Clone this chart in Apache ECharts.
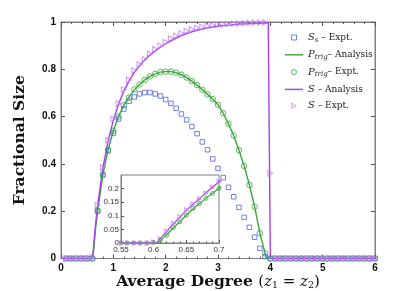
<!DOCTYPE html>
<html><head><meta charset="utf-8">
<script src="https://cdn.jsdelivr.net/npm/echarts@6/dist/echarts.min.js"></script>
<style>html,body{margin:0;padding:0;background:#fff}#c{width:415px;height:291px}</style>
</head><body><div id="c"></div>
<script>
// ---- data ----
const exptX = [0.1,0.2,0.3,0.4,0.5,0.6,0.7,0.8,0.9,1.0,1.1,1.2,1.3,1.4,1.5,1.6,1.7,1.8,1.9,2.0,
  2.1,2.2,2.3,2.4,2.5,2.6,2.7,2.8,2.9,3.0,3.1,3.2,3.3,3.4,3.5,3.6,3.7,3.8,3.9,4.0,
  4.1,4.2,4.3,4.4,4.5,4.6,4.7,4.8,4.9,5.0,5.1,5.2,5.3,5.4,5.5,5.6,5.7,5.8,5.9,6.0];
const exptSs = [0,0,0,0,0,0,
  0.2,0.353,0.455,0.53,0.59,0.632,0.665,0.683,0.696,0.702,0.702,0.696,0.687,0.672,0.656,0.635,0.611,0.586,0.558,0.528,0.493,0.46,0.421,0.381,0.342,0.301,0.261,0.216,0.174,0.132,0.09,0.043,0.008,
  0,0,0,0,0,0,0,0,0,0,0,0,0,0,0,0,0,0,0,0,0];
const exptP = [0,0,0,0,0,0,
  0.203,0.353,0.46,0.54,0.60,0.648,0.68,0.715,0.736,0.755,0.77,0.781,0.788,0.79,0.79,0.786,0.777,0.765,0.75,0.733,0.714,0.694,0.674,0.65,0.614,0.569,0.52,0.458,0.391,0.311,0.219,0.107,0.022,
  0,0,0,0,0,0,0,0,0,0,0,0,0,0,0,0,0,0,0,0,0];
const exptS = [0,0,0,0,0,0.005,
  0.225,0.385,0.5,0.59,0.655,0.715,0.755,0.795,0.82,0.843,0.866,0.885,0.9,0.915,0.93,0.942,0.952,0.962,0.968,0.975,0.979,0.983,0.986,0.988,0.99,0.991,0.993,0.994,0.995,0.996,0.997,0.997,0.998,
  0.36,
  0,0,0,0,0,0,0,0,0,0,0,0,0,0,0,0,0,0,0,0];

const anaX = [0,0.6,0.605,0.61,0.62,0.63,0.64,0.65,0.66,0.67,0.68,0.69,
  0.7,0.8,0.9,1.0,1.1,1.2,1.3,1.4,1.5,1.6,1.7,1.8,1.9,2.0,2.1,2.2,2.3,2.4,2.5,2.6,2.7,2.8,2.9,3.0,3.1,3.2,3.3,3.4,3.5,3.6,3.7,3.8,3.9,
  3.93,3.96,4.0,6.0];
const anaS = [0,0,0,0.016,0.043,0.07,0.095,0.12,0.143,0.163,0.185,0.205,
  0.225,0.383,0.497,0.585,0.652,0.708,0.75,0.787,0.815,0.84,0.86,0.878,0.894,0.908,0.92,0.932,0.942,0.951,0.958,0.965,0.97,0.975,0.979,0.982,0.985,0.987,0.989,0.991,0.992,0.993,0.994,0.995,0.996,
  0.996,0.997,0,0];
const anaP = [0,0,0,0.008,0.03,0.055,0.078,0.102,0.125,0.145,0.164,0.183,
  0.201,0.353,0.46,0.54,0.60,0.648,0.682,0.713,0.736,0.755,0.77,0.781,0.788,0.79,0.79,0.786,0.777,0.765,0.75,0.733,0.714,0.694,0.673,0.65,0.614,0.569,0.52,0.458,0.391,0.311,0.219,0.107,0.022,
  0,0,0,0];

const insetX = [0.55,0.56,0.57,0.58,0.59,0.60,0.61,0.62,0.63,0.64,0.65,0.66,0.67,0.68,0.69,0.70];
const insetS = [0,0,0,0,0,0.003,0.016,0.044,0.072,0.096,0.121,0.142,0.162,0.183,0.205,0.225];
const insetP = [0,0,0,0,0,0.002,0.01,0.028,0.057,0.078,0.102,0.127,0.145,0.164,0.182,0.201];

const xTicks = [0,1,2,3,4,5,6];
const yTickLabels = ['0','0.2','0.4','0.6','0.8','1'];

// ---- style ----
const serif = 'DejaVu Serif';
const sans = 'Liberation Sans';
const C_BLUE = '#4c63ea', C_GREEN = '#3aa63a', C_PURPLE = '#a640f2', C_TRI = '#c27af5';
const triPath = 'path://M0,0L8.66,5L0,10Z';
const sqPath = 'path://M0,0H10V10H0Z';
const linePath = 'path://M0,0H20V1.6H0Z';
const zip = (xs, ys) => xs.map((x, i) => [x, ys[i]]);

const legendText = {
  Ss_expt: '{i|S}{sub|s}{t| – Expt.}',
  P_ana: '{i|P}{sub|trig}{t|– Analysis}',
  P_expt: '{i|P}{sub|trig}{t|– Expt.}',
  S_ana: '{i|S}{t| – Analysis}',
  S_expt: '{i|S}{t| – Expt.}'
};

const axisLineStyle = {color: '#808080', width: 1};
const tickStyle = {color: '#555', width: 1};

function mainX(pos, showLabel) {
  return {
    gridIndex: 0, type: 'value', min: 0, max: 6, interval: 1, position: pos,
    axisLine: {show: true, onZero: false, lineStyle: axisLineStyle},
    axisTick: {show: true, inside: true, length: 4, lineStyle: tickStyle},
    minorTick: {show: true, splitNumber: 5, length: 2, lineStyle: tickStyle},
    splitLine: {show: false}, minorSplitLine: {show: false},
    axisLabel: {show: showLabel, fontFamily: sans, fontWeight: 'bold', fontSize: 10, color: '#111', margin: 5,
      formatter: v => String(xTicks[Math.round(v)])}
  };
}
function mainY(pos, showLabel) {
  return {
    gridIndex: 0, type: 'value', min: 0, max: 1, interval: 0.2, position: pos,
    axisLine: {show: true, onZero: false, lineStyle: axisLineStyle},
    axisTick: {show: true, inside: true, length: 4, lineStyle: tickStyle},
    splitLine: {show: false},
    axisLabel: {show: showLabel, fontFamily: sans, fontWeight: 'bold', fontSize: 10, color: '#111', margin: 5,
      formatter: v => yTickLabels[Math.round(v * 5)]}
  };
}

const xMain = mainX('bottom', true);
xMain.name = '{b|Average Degree }{r|(}{i|z}{s|1}{r| = }{i|z}{s|2}{r|)}';
xMain.nameLocation = 'middle';
xMain.nameGap = 15;
xMain.nameMoveOverlap = false;
xMain.nameTextStyle = {rich: {
  b: {fontFamily: serif, fontWeight: 'bold', fontSize: 15.5, color: '#111', lineHeight: 17},
  r: {fontFamily: serif, fontSize: 15, color: '#111', lineHeight: 17},
  i: {fontFamily: serif, fontStyle: 'italic', fontSize: 15, color: '#111', lineHeight: 17},
  s: {fontFamily: serif, fontSize: 9.5, color: '#111', lineHeight: 10, verticalAlign: 'bottom'}
}};
const yMain = mainY('left', true);
yMain.name = 'Fractional Size';
yMain.nameLocation = 'middle';
yMain.nameRotate = 90;
yMain.nameGap = 33;
yMain.nameMoveOverlap = false;
yMain.nameTextStyle = {fontFamily: serif, fontWeight: 'bold', fontSize: 15.5, color: '#111'};

const option = {
  animation: false,
  backgroundColor: '#fff',
  grid: [
    {left: 61, top: 22, width: 314, height: 236.5, show: true, borderColor: '#808080', borderWidth: 1,
      backgroundColor: 'transparent', containLabel: false, outerBoundsMode: 'none'},
    {left: 121, top: 175, width: 98, height: 68, show: true, borderColor: '#808080', borderWidth: 1,
      backgroundColor: '#fff', z: 5, containLabel: false, outerBoundsMode: 'none'}
  ],
  legend: {
    orient: 'vertical', left: 280, top: 27.5, itemWidth: 18, itemHeight: 5, itemGap: 6.3,
    selectedMode: false, symbolKeepAspect: true,
    data: [
      {name: 'Ss_expt', icon: sqPath, itemStyle: {color: 'rgba(0,0,0,0)', borderColor: C_BLUE, borderWidth: 1}},
      {name: 'P_ana', icon: linePath, itemStyle: {color: C_GREEN, borderWidth: 0}},
      {name: 'P_expt', icon: 'circle', itemStyle: {color: 'rgba(0,0,0,0)', borderColor: C_GREEN, borderWidth: 1}},
      {name: 'S_ana', icon: linePath, itemStyle: {color: C_PURPLE, borderWidth: 0}},
      {name: 'S_expt', icon: triPath, itemStyle: {color: 'rgba(0,0,0,0)', borderColor: C_TRI, borderWidth: 1}}
    ],
    formatter: n => legendText[n],
    textStyle: {fontFamily: serif, fontSize: 9, color: '#222', rich: {
      i: {fontFamily: serif, fontStyle: 'italic', fontSize: 10, color: '#222', lineHeight: 12},
      sub: {fontFamily: serif, fontStyle: 'italic', fontSize: 7, color: '#222', lineHeight: 8, verticalAlign: 'bottom'},
      t: {fontFamily: serif, fontSize: 9, color: '#222', lineHeight: 12}
    }}
  },
  xAxis: [
    xMain,
    mainX('top', false),
    {
      gridIndex: 1, type: 'value', min: 0.55, max: 0.7, interval: 0.05, position: 'bottom', z: 6,
      axisLine: {show: true, onZero: false, lineStyle: axisLineStyle},
      axisTick: {show: true, inside: true, length: 3, lineStyle: tickStyle},
      minorTick: {show: true, splitNumber: 5, length: 1.5, lineStyle: tickStyle},
      splitLine: {show: false},
      axisLabel: {fontFamily: sans, fontSize: 8, color: '#333', margin: 3}
    }
  ],
  yAxis: [
    yMain,
    mainY('right', false),
    {
      gridIndex: 1, type: 'value', min: 0, max: 0.25, interval: 0.05, position: 'left', z: 6,
      axisLine: {show: true, onZero: false, lineStyle: axisLineStyle},
      axisTick: {show: true, inside: true, length: 3, lineStyle: tickStyle},
      splitLine: {show: false},
      axisLabel: {fontFamily: sans, fontSize: 8, color: '#333', margin: 2, showMaxLabel: false}
    }
  ],
  series: [
    {name: 'Ss_expt', type: 'scatter', xAxisIndex: 0, yAxisIndex: 0, data: zip(exptX, exptSs),
      symbol: 'rect', symbolSize: 4.5, itemStyle: {color: 'rgba(0,0,0,0)', borderColor: C_BLUE, borderWidth: 1}, z: 3},
    {name: 'P_ana', type: 'line', xAxisIndex: 0, yAxisIndex: 0, data: zip(anaX, anaP),
      symbol: 'none', lineStyle: {color: C_GREEN, width: 1.4}, itemStyle: {color: C_GREEN}, z: 2},
    {name: 'P_expt', type: 'scatter', xAxisIndex: 0, yAxisIndex: 0, data: zip(exptX, exptP),
      symbol: 'circle', symbolSize: 5.5, itemStyle: {color: 'rgba(0,0,0,0)', borderColor: C_GREEN, borderWidth: 1}, z: 3},
    {name: 'S_ana', type: 'line', xAxisIndex: 0, yAxisIndex: 0, data: zip(anaX, anaS),
      symbol: 'none', lineStyle: {color: C_PURPLE, width: 1.4}, itemStyle: {color: C_PURPLE}, z: 2},
    {name: 'S_expt', type: 'scatter', xAxisIndex: 0, yAxisIndex: 0, data: zip(exptX, exptS),
      symbol: triPath, symbolSize: [5, 5.5], itemStyle: {color: 'rgba(0,0,0,0)', borderColor: C_TRI, borderWidth: 1}, z: 3},

    {name: 'inset_P_ana', type: 'line', xAxisIndex: 2, yAxisIndex: 2, data: zip(anaX, anaP),
      symbol: 'none', lineStyle: {color: C_GREEN, width: 1.2}, z: 7},
    {name: 'inset_S_ana', type: 'line', xAxisIndex: 2, yAxisIndex: 2, data: zip(anaX, anaS),
      symbol: 'none', lineStyle: {color: C_PURPLE, width: 1.2}, z: 7},
    {name: 'inset_P_expt', type: 'scatter', xAxisIndex: 2, yAxisIndex: 2, data: zip(insetX, insetP),
      symbol: 'circle', symbolSize: 4, itemStyle: {color: 'rgba(0,0,0,0)', borderColor: C_GREEN, borderWidth: 1}, z: 8},
    {name: 'inset_S_expt', type: 'scatter', xAxisIndex: 2, yAxisIndex: 2, data: zip(insetX, insetS),
      symbol: triPath, symbolSize: [4, 4.5], itemStyle: {color: 'rgba(0,0,0,0)', borderColor: C_TRI, borderWidth: 1}, z: 8}
  ]
};

const chart = echarts.init(document.getElementById('c'), null, {renderer: 'canvas'});
chart.setOption(option);
</script>
</body></html>
